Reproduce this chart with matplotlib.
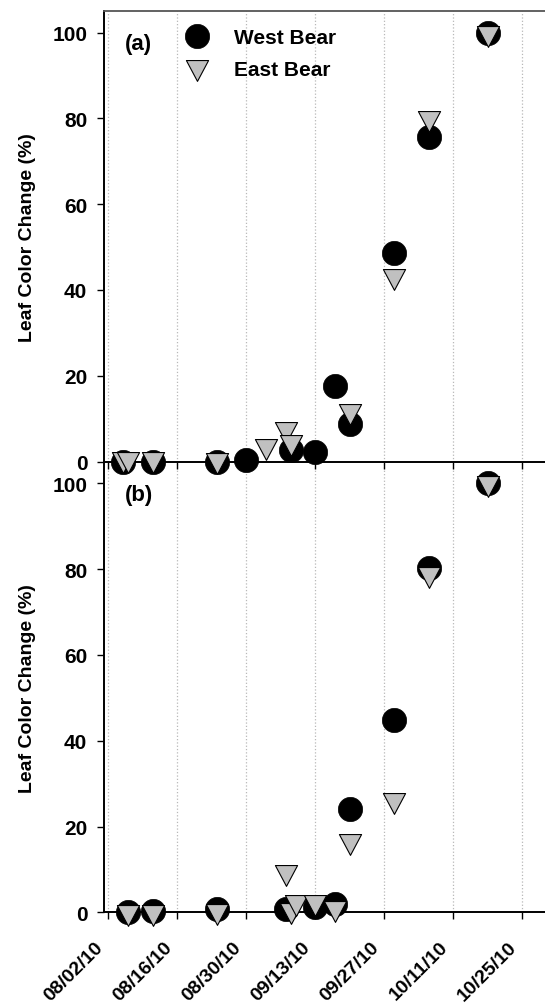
import matplotlib
matplotlib.use("Agg")
import matplotlib.pyplot as plt
import matplotlib.dates as mdates
from matplotlib.path import Path
from matplotlib.transforms import ScaledTranslation
import pandas as pd

plt.rcParams['font.family'] = ['Liberation Sans', 'DejaVu Sans']
plt.rcParams['font.weight'] = 'bold'

# panel (a)
a_west_dates = ['08/05/10', '08/11/10', '08/24/10', '08/30/10', '09/08/10', '09/13/10',
                '09/17/10', '09/20/10', '09/29/10', '10/06/10', '10/18/10']
a_west_vals = [0, 0, 0, 0.3, 2.6, 2.2, 17.6, 8.8, 48.7, 75.7, 100]
a_east_dates = ['08/05/10', '08/06/10', '08/11/10', '08/24/10', '09/03/10', '09/07/10',
                '09/08/10', '09/20/10', '09/29/10', '10/06/10', '10/18/10']
a_east_vals = [0.7, 0.7, 0.7, 0.3, 3.6, 7.7, 4.6, 11.9, 43.3, 80, 100]

# panel (b)
b_west_dates = ['08/06/10', '08/11/10', '08/24/10', '09/07/10', '09/13/10', '09/17/10',
                '09/20/10', '09/29/10', '10/06/10', '10/18/10']
b_west_vals = [0, 0.3, 0.8, 0.7, 1.2, 2.0, 24.1, 44.9, 80.3, 100]
b_east_dates = ['08/06/10', '08/11/10', '08/24/10', '09/07/10', '09/08/10', '09/09/10',
                '09/13/10', '09/17/10', '09/20/10', '09/29/10', '10/06/10', '10/18/10']
b_east_vals = [0, 0, 0.3, 9.4, 0.5, 2.3, 2.3, 1.0, 16.6, 26.2, 78.8, 100]

tick_dates = ['08/02/10', '08/16/10', '08/30/10', '09/13/10', '09/27/10', '10/11/10', '10/25/10']
yticks = [0, 20, 40, 60, 80, 100]

def to_dt(lst):
    return pd.to_datetime(lst, format='%m/%d/%y')

# downward triangle with its centroid on the data point
tri = Path([(-1, 0.627), (1, 0.627), (0, -1.253), (-1, 0.627)], closed=True)

fig = plt.figure(figsize=(5.45, 10.04), dpi=100)
ax_b = fig.add_axes([0.1908, 0.0903, 0.8092, 0.4486])
ax_a = fig.add_axes([0.1908, 0.5392, 0.8092, 0.4488])
ax_a.patch.set_alpha(0)

d0 = pd.Timestamp('2010-08-02')
ticks = to_dt(tick_dates)

panels = [(ax_a, a_west_dates, a_west_vals, a_east_dates, a_east_vals, '(a)'),
          (ax_b, b_west_dates, b_west_vals, b_east_dates, b_east_vals, '(b)')]

for ax, wd, wv, ed, ev, tag in panels:
    w, = ax.plot(to_dt(wd), wv, linestyle='none', marker='o', ms=17.5, color='black',
                 mec='black', mew=0.5, clip_on=False, zorder=3, label='West Bear')
    e, = ax.plot(to_dt(ed), ev, linestyle='none', marker=tri, ms=20, mfc='#c0c0c0',
                 mec='black', mew=0.8, clip_on=False, zorder=4, label='East Bear')
    ax.set_xlim(d0 - pd.Timedelta(hours=21.6), d0 + pd.Timedelta(hours=88.6 * 24))
    ax.set_ylim(0, 105)
    ax.set_xticks(ticks)
    ax.set_yticks(yticks)
    ax.xaxis.set_major_formatter(mdates.DateFormatter('%m/%d/%y'))
    ax.xaxis.grid(True, linestyle=':', color='#b8b8b8', linewidth=0.9)
    ax.set_axisbelow(True)
    ax.spines['right'].set_visible(False)
    ax.spines['left'].set_linewidth(1.4)
    ax.spines['bottom'].set_linewidth(1.4)
    ax.tick_params(direction='out', length=5, width=1, labelsize=14)
    ax.tick_params(axis='y', pad=7, labelsize=15)
    ax.set_ylabel('Leaf Color Change (%)', fontsize=14, fontweight='bold')
    ax.yaxis.set_label_coords(-0.155, 0.5)
    ax.text(0.048, 0.927, tag, transform=ax.transAxes, fontsize=16,
            fontweight='bold', va='center', ha='left')
    if ax is ax_a:
        ax.legend(handles=[w, e], loc='upper left', bbox_to_anchor=(0.163, 0.962),
                  frameon=False, borderpad=0, borderaxespad=0, numpoints=1,
                  handletextpad=0.8, labelspacing=0.6,
                  prop={'size': 15, 'weight': 'bold'})

ax_a.spines['top'].set_color('#555555')
ax_a.spines['top'].set_linewidth(1.3)
ax_a.tick_params(axis='x', labelbottom=False)
ax_b.spines['top'].set_visible(False)

ax_b.tick_params(axis='x', pad=18)
shift = ScaledTranslation(-8 / 100, 0, fig.dpi_scale_trans)
for lab in ax_b.get_xticklabels():
    lab.set_rotation(45)
    lab.set_ha('right')
    lab.set_va('center')
    lab.set_rotation_mode('anchor')
    lab.set_transform(lab.get_transform() + shift)

fig.savefig('out.png', dpi=100)
